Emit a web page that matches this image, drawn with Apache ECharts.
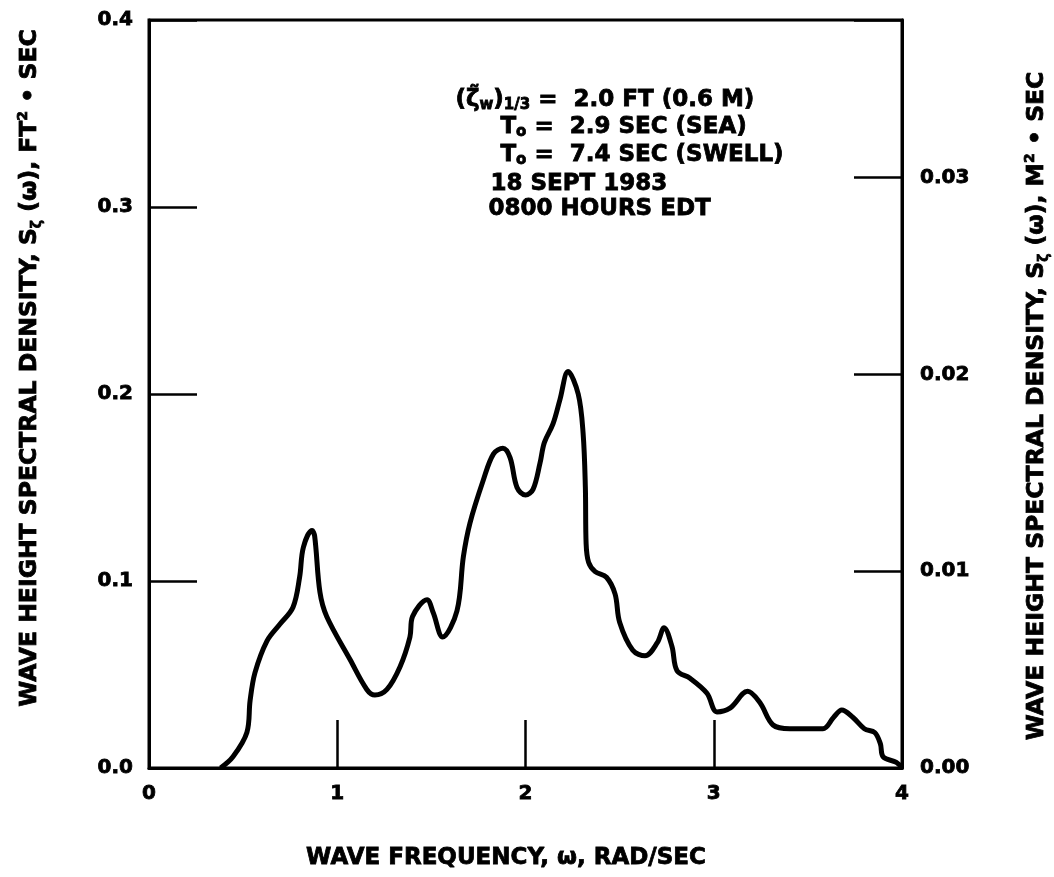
<!DOCTYPE html>
<html>
<head>
<meta charset="utf-8">
<script src="https://cdn.jsdelivr.net/npm/echarts@6/dist/echarts.min.js"></script>
<style>
html,body{margin:0;padding:0;background:#fff;}
#chart{width:1054px;height:877px;}
</style>
</head>
<body>
<div id="chart"></div>
<script>
// Wave frequency (rad/sec) and spectral density (ft^2·sec)
var freq = [0.38, 0.446, 0.52, 0.537, 0.563, 0.627, 0.696, 0.765, 0.80, 0.82, 0.866, 0.88, 0.908, 0.944,
  1.068, 1.157, 1.20, 1.264, 1.333, 1.386, 1.40, 1.477, 1.51, 1.56, 1.636, 1.67, 1.705, 1.776, 1.83,
  1.88, 1.918, 1.955, 2.0, 2.04, 2.077, 2.10, 2.146, 2.183, 2.226, 2.28, 2.306, 2.318, 2.322, 2.335, 2.37,
  2.43, 2.476, 2.50, 2.57, 2.635, 2.70, 2.736, 2.778, 2.805, 2.874, 2.964, 3.017, 3.086, 3.18, 3.245,
  3.315, 3.405, 3.58, 3.636, 3.68, 3.74, 3.80, 3.855, 3.885, 3.90, 3.97, 4.0];
var density = [0.0, 0.006, 0.019, 0.036, 0.051, 0.068, 0.077, 0.086, 0.102, 0.118, 0.127, 0.124, 0.094, 0.081,
  0.058, 0.042, 0.039, 0.042, 0.054, 0.070, 0.081, 0.090, 0.083, 0.070, 0.084, 0.113, 0.131, 0.154, 0.168,
  0.171, 0.166, 0.150, 0.146, 0.149, 0.163, 0.174, 0.184, 0.197, 0.212, 0.200, 0.179, 0.150, 0.120, 0.110, 0.105,
  0.102, 0.093, 0.078, 0.063, 0.060, 0.067, 0.075, 0.065, 0.052, 0.048, 0.040, 0.030, 0.032, 0.041, 0.035,
  0.023, 0.021, 0.021, 0.027, 0.031, 0.027, 0.021, 0.019, 0.013, 0.006, 0.003, 0.0];

var xTickLabels = ['0', '1', '2', '3', '4'];
var leftTickLabels = ['0.0', '0.1', '0.2', '0.3', '0.4'];
var rightTickLabels = ['0.00', '0.01', '0.02', '0.03'];

var annotationLines = [
  '{p|(ζ̃}{s|w}{p|)}{s|1/3}{p| =  2.0 FT (0.6 M)}',
  '{p|T}{s|o}{p| =  2.9 SEC (SEA)}',
  '{p|T}{s|o}{p| =  7.4 SEC (SWELL)}',
  '{p|18 SEPT 1983}',
  '{p|0800 HOURS EDT}'
];
var leftTitle = '{p|WAVE HEIGHT SPECTRAL DENSITY, S}{s|ζ}{p| (ω), FT}{u|2}{p| • SEC}';
var rightTitle = '{p|WAVE HEIGHT SPECTRAL DENSITY, S}{s|ζ}{p| (ω), M}{u|2}{p| • SEC}';
var xTitle = 'WAVE FREQUENCY, ω, RAD/SEC';

var FONT = '"DejaVu Sans", "Liberation Sans", Arial, sans-serif';
var data = freq.map(function (f, i) { return [f, density[i]]; });

var chart = echarts.init(document.getElementById('chart'), null, {renderer: 'canvas'});

function rs(size, lh, va) {
  var o = {fontFamily: FONT, fontWeight: 'bold', fontSize: size, lineHeight: lh, fill: '#000', stroke: '#000', lineWidth: 0.8};
  if (va) o.verticalAlign = va;
  return o;
}
var annRich = {p: rs(23, 26), s: rs(15, 15, 'bottom')};
var titleRich = {p: rs(23.5, 28), s: rs(14, 14, 'bottom'), u: rs(14, 14, 'top')};
var annLeft = [455, 500, 500, 490, 488];
var annY = [101, 128, 156, 185, 210];

var graphics = annotationLines.map(function (t, i) {
  return {
    type: 'text', left: annLeft[i], top: annY[i] - 13, z: 10,
    style: {text: t, rich: annRich, fill: '#000'}
  };
});
graphics.push({
  type: 'text', x: 30, y: 368, rotation: Math.PI / 2, z: 10,
  style: {text: leftTitle, rich: titleRich, align: 'center', verticalAlign: 'middle'}
});
graphics.push({
  type: 'text', x: 1037, y: 406, rotation: Math.PI / 2, z: 10,
  style: {text: rightTitle, rich: titleRich, align: 'center', verticalAlign: 'middle'}
});
graphics.push({
  type: 'text', x: 506, y: 858, z: 10,
  style: {text: xTitle, fontFamily: FONT, fontWeight: 'bold', fontSize: 23, fill: '#000', stroke: '#000', lineWidth: 0.8,
    align: 'center', verticalAlign: 'middle'}
});

var labelStyle = {fontFamily: FONT, fontWeight: 'bold', fontSize: 20, color: '#000', textBorderColor: '#000', textBorderWidth: 0.8};

chart.setOption({
  backgroundColor: '#fff',
  animation: false,
  grid: {left: 149, right: 152, top: 20, bottom: 109, show: true, borderColor: '#000', borderWidth: 3, containLabel: false},
  xAxis: {
    type: 'value', min: 0, max: 4, interval: 1,
    axisLine: {show: true, onZero: false, lineStyle: {color: '#000', width: 3}},
    axisTick: {show: true, inside: true, length: 48, lineStyle: {color: '#000', width: 2.5}},
    splitLine: {show: false},
    axisLabel: Object.assign({margin: 16, formatter: function (v) { return xTickLabels[Math.round(v)]; }}, labelStyle)
  },
  yAxis: [{
    type: 'value', min: 0, max: 0.4, interval: 0.1, position: 'left',
    axisLine: {show: true, lineStyle: {color: '#000', width: 3}},
    axisTick: {show: true, inside: true, length: 48, lineStyle: {color: '#000', width: 2.5}},
    splitLine: {show: false},
    axisLabel: Object.assign({margin: 16, formatter: function (v) { return leftTickLabels[Math.round(v * 10)]; }}, labelStyle)
  }, {
    type: 'value', min: 0, max: 0.038, interval: 0.01, position: 'right',
    axisLine: {show: true, lineStyle: {color: '#000', width: 3}},
    axisTick: {show: true, inside: true, length: 48, lineStyle: {color: '#000', width: 2.5}},
    splitLine: {show: false},
    axisLabel: Object.assign({margin: 18, formatter: function (v) {
      var k = Math.round(v * 100);
      if (Math.abs(v * 100 - k) > 1e-6) return '';
      return rightTickLabels[k] || '';
    }}, labelStyle)
  }],
  series: [{
    type: 'line', yAxisIndex: 0, data: data, smooth: 0.35, showSymbol: false, symbol: 'none',
    lineStyle: {color: '#000', width: 5}, z: 5
  }],
  graphic: graphics
});
</script>
</body>
</html>
